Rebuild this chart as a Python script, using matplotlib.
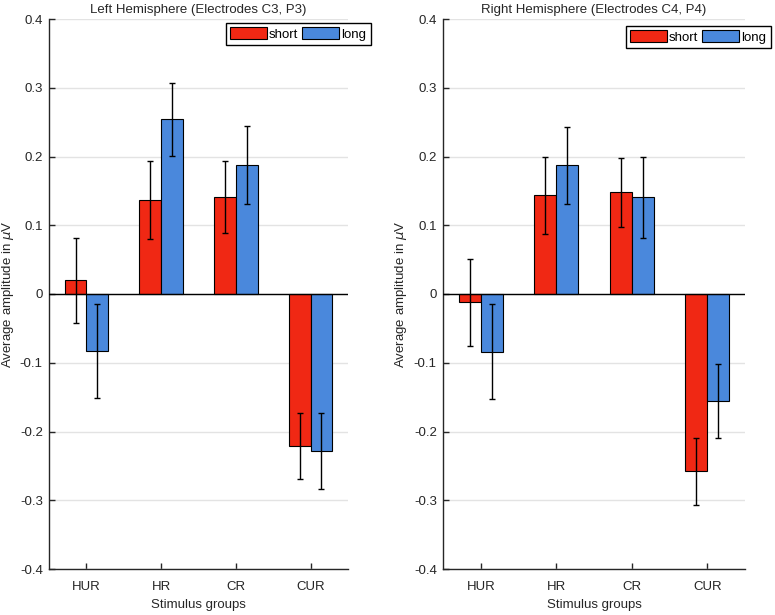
import numpy as np
import matplotlib.pyplot as plt

plt.rcParams["font.family"] = ["Liberation Sans", "DejaVu Sans"]

groups = ["HUR", "HR", "CR", "CUR"]
conditions = ["short", "long"]
colors = ["#F02814", "#4A88DC"]

titles = [
    "Left Hemisphere (Electrodes C3, P3)",
    "Right Hemisphere (Electrodes C4, P4)",
]

# mean amplitudes per hemisphere, condition
left_short = [0.020, 0.137, 0.141, -0.221]
left_long = [-0.083, 0.254, 0.188, -0.228]
left_short_err = [0.062, 0.057, 0.052, 0.048]
left_long_err = [0.068, 0.053, 0.057, 0.055]

right_short = [-0.012, 0.144, 0.148, -0.258]
right_long = [-0.084, 0.187, 0.141, -0.156]
right_short_err = [0.063, 0.056, 0.050, 0.049]
right_long_err = [0.069, 0.056, 0.059, 0.054]

yticks = [-0.4, -0.3, -0.2, -0.1, 0, 0.1, 0.2, 0.3, 0.4]
ytick_labels = ["-0.4", "-0.3", "-0.2", "-0.1", "0", "0.1", "0.2", "0.3", "0.4"]

panels = [
    (left_short, left_long, left_short_err, left_long_err),
    (right_short, right_long, right_short_err, right_long_err),
]

fig = plt.figure(figsize=(7.75, 6.15), dpi=100)
axes_pos = [
    [49 / 775, 1 - 569 / 615, 299 / 775, 550 / 615],
    [443 / 775, 1 - 569 / 615, 302 / 775, 550 / 615],
]
legend_anchor = [(371 / 775, 1 - 22.5 / 615), (771 / 775, 1 - 25.5 / 615)]
ylabel_x = [-0.112, -0.111]

axis_color = "#262626"
x = np.arange(1, len(groups) + 1)
width = 0.29
offsets = [-0.145, 0.145]

for k, (s, l, se, le) in enumerate(panels):
    ax = fig.add_axes(axes_pos[k])
    handles = []
    for j, (vals, errs) in enumerate([(s, se), (l, le)]):
        b = ax.bar(x + offsets[j], vals, width, color=colors[j],
                   edgecolor="black", linewidth=0.8, label=conditions[j],
                   zorder=3)
        ax.errorbar(x + offsets[j], vals, yerr=errs, fmt="none",
                    ecolor="black", elinewidth=1, capsize=2.2,
                    capthick=1, zorder=4)
        handles.append(b)
    ax.axhline(0, color="black", linewidth=1, zorder=5)

    ax.set_xlim(0.5, 4.5)
    ax.set_ylim(-0.4, 0.4)
    ax.set_yticks(yticks)
    ax.set_yticklabels(ytick_labels)
    ax.set_xticks(x)
    ax.set_xticklabels(groups)
    ax.yaxis.grid(True, color="#E3E3E3", linewidth=1, zorder=0)
    ax.set_axisbelow(True)
    for side in ["top", "right"]:
        ax.spines[side].set_visible(False)
    for side in ["left", "bottom"]:
        ax.spines[side].set_color(axis_color)
        ax.spines[side].set_linewidth(1)
    ax.tick_params(direction="in", length=4, width=1, colors=axis_color,
                   labelsize=9.5, labelcolor=axis_color)
    ax.tick_params(axis="y", pad=4.5)
    ax.tick_params(axis="x", pad=9)
    ax.set_title(titles[k], fontsize=9.5, color=axis_color, pad=4)
    ax.set_xlabel("Stimulus groups", fontsize=9.5, color=axis_color)
    ax.xaxis.set_label_coords(0.5, -0.055)
    ax.set_ylabel(r"Average amplitude in $\mu$V", fontsize=9.5,
                  color=axis_color)
    ax.yaxis.set_label_coords(ylabel_x[k], 0.5)

    fig.legend(handles=handles, labels=conditions, loc="upper right",
               bbox_to_anchor=legend_anchor[k], bbox_transform=fig.transFigure,
               ncol=2, fontsize=9.5, frameon=True, fancybox=False,
               edgecolor="black", framealpha=1, borderaxespad=0,
               handlelength=2.8, handleheight=1.05, handletextpad=0.15,
               columnspacing=0.3, borderpad=0.35)

fig.savefig("out.png", dpi=100)
